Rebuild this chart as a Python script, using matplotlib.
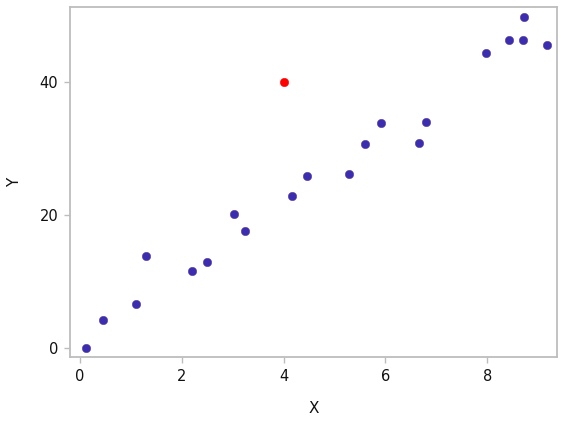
import matplotlib

matplotlib.use("Agg")

import matplotlib.pyplot as plt

# data
x_vals = [0.12, 0.46, 1.11, 1.29, 2.21, 2.50, 3.03, 3.24, 4.17, 4.45, 5.28,
          5.59, 5.92, 6.66, 6.80, 7.98, 8.42, 8.71, 8.72, 9.17]
y_vals = [0.0, 4.2, 6.6, 13.85, 11.5, 13.0, 20.2, 17.6, 22.8, 25.9, 26.2,
          30.6, 33.8, 30.8, 34.0, 44.3, 46.3, 46.3, 49.8, 45.6]
outlier_x = [4.0]
outlier_y = [40.0]

PURPLE = "#3a2db0"
RED = "#ff0000"
FRAME = "#bdbdbd"

fig = plt.figure(figsize=(5.61, 4.21), dpi=100, facecolor="white")
ax = fig.add_axes([0.1248, 0.1513, 0.8675, 0.8328])

ax.scatter(x_vals, y_vals, s=36, color=PURPLE, edgecolors="#5a3a9a", linewidths=0.4, zorder=3)
ax.scatter(outlier_x, outlier_y, s=36, color=RED, edgecolors=RED, linewidths=0.4, zorder=3)

ax.set_xlim(-0.196, 9.365)
ax.set_ylim(-1.4, 51.3)
ax.set_xticks([0, 2, 4, 6, 8])
ax.set_yticks([0, 20, 40])

for s in ax.spines.values():
    s.set_color(FRAME)
    s.set_linewidth(1.3)

ax.tick_params(axis="both", length=4.5, width=1, color=FRAME, labelsize=10.5,
               labelcolor="#111111", pad=4)

ax.set_xlabel("X", fontsize=11, color="#111111", labelpad=12)
ax.set_ylabel("Y", fontsize=11, color="#111111", labelpad=12.5)

fig.savefig("out.png", dpi=100, facecolor="white")
plt.close(fig)
